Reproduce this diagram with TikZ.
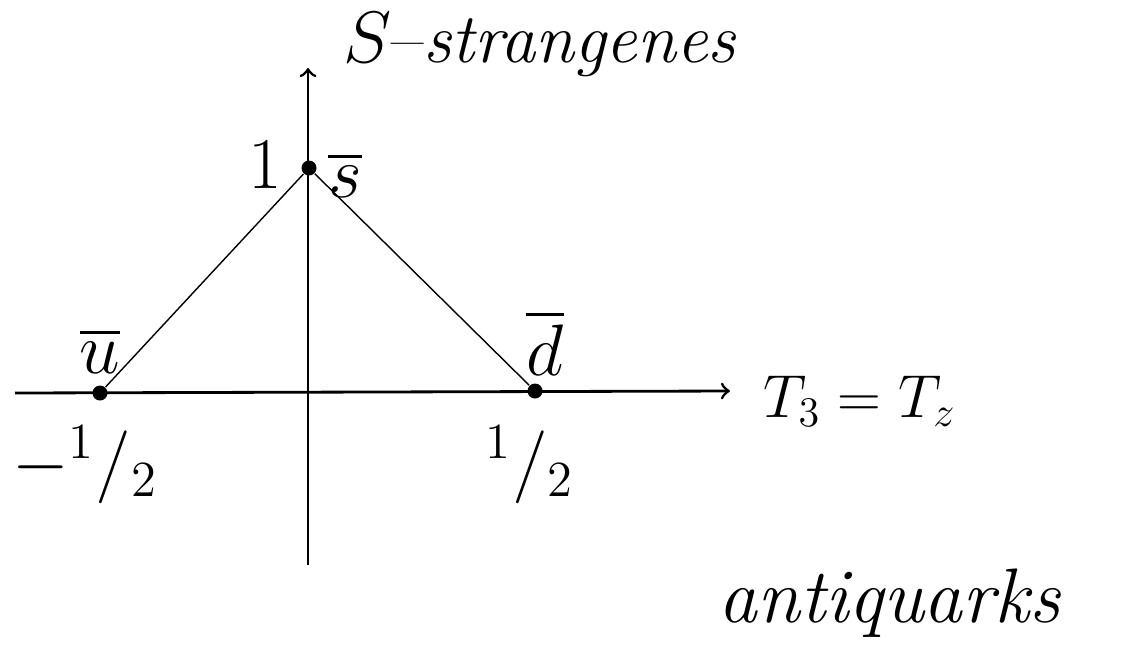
\documentclass[tikz,border=0pt]{standalone}
\usepackage{amsmath}
\usepackage{tikz}
\usetikzlibrary{arrows, positioning, calc}

\begin{document}
\begin{tikzpicture}[
    every node/.style={font=\fontsize{20}{24}\selectfont},
    dot/.style={circle, fill=black, inner sep=0pt, minimum size=0.15cm},
    axis/.style={->, >=to, thick},
    edge/.style={thin}
]
\useasboundingbox (0,0) rectangle (11.27,6.63);

% --- Axes ---
\coordinate (xl) at (0.15,2.70);
\coordinate (xr) at (7.30,2.72);
\coordinate (yb) at (3.08,0.98);
\coordinate (yt) at (3.08,5.95);
\draw[axis] (xl) -- (xr);
\draw[axis] (yb) -- (yt);

% --- Antiquarks ---
\node[dot] (sbar) at (3.09,4.95) {};
\node[dot] (ubar) at (1.00,2.70) {};
\node[dot] (dbar) at (5.35,2.72) {};

\draw[edge] (ubar) -- (sbar);
\draw[edge] (sbar) -- (dbar);

% --- Labels ---
\node (slab) at (2.65,4.98) {$1$};
\node (snam) at (3.45,4.88) {$\overline{s}$};
\node (unam) at (1.00,3.12) {$\overline{u}$};
\node (dnam) at (5.45,3.20) {$\overline{d}$};
\node (umin) at (0.85,1.98) {$-{}^1/{}_2$};
\node (dplu) at (5.30,1.98) {${}^1/{}_2$};

\node (yname) at (5.40,6.18) {$S$--\textit{strangenes}};
\node[font=\fontsize{17}{20}\selectfont] (xname) at (8.60,2.62) {$T_3 = T_z$};
\node[font=\fontsize{22}{26}\selectfont] (title) at (8.90,0.60) {\textit{antiquarks}};
\end{tikzpicture}
\end{document}
